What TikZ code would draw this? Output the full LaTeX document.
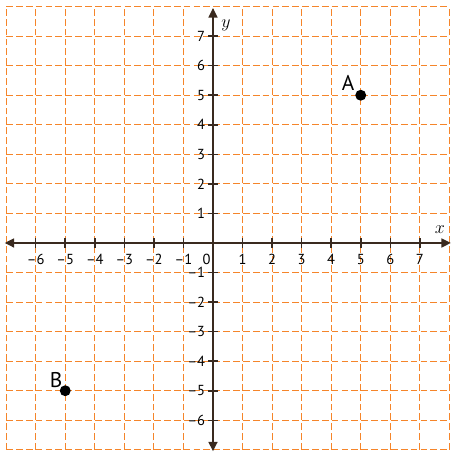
\documentclass[tikz,border=0pt]{standalone}
\usepackage{fontspec}
\setmainfont{PT Sans}
\usetikzlibrary{arrows.meta}
\definecolor{gridorange}{HTML}{F5852A}
\definecolor{axisbrown}{HTML}{3A2A1F}
\tikzset{
  gridline/.style={draw=gridorange, line width=1pt, dash pattern=on 6.5pt off 3pt},
  axisline/.style={draw=axisbrown, line width=1.8pt, {Triangle[length=3.2mm,width=3mm]}-{Triangle[length=3.2mm,width=3mm]}},
  tickline/.style={draw=axisbrown, line width=1.5pt},
  ticklabel/.style={font=\fontsize{14}{16}\selectfont, inner sep=0pt, text=black},
  ptlabel/.style={font=\fontsize{20.5}{22}\selectfont, inner sep=0pt},
  axislabel/.style={font=\fontsize{18}{20}\selectfont, inner sep=0pt},
  dotpt/.style={circle, fill=black, inner sep=0pt, minimum size=3.7mm}
}
\begin{document}
\begin{tikzpicture}
\useasboundingbox (-7.208,-7.343) rectangle (8.799,8.223);
% grid
\foreach \i in {-7,...,8} {
  \draw[gridline] (\i,-7) -- (\i,8);
  \draw[gridline] (-7,\i) -- (8,\i);
}
% axes
\coordinate (xmin) at (-7.05,0);
\coordinate (xmax) at (8.05,0);
\coordinate (ymin) at (0,-7.05);
\coordinate (ymax) at (0,7.95);
\draw[axisline] (xmin) -- (xmax);
\draw[axisline] (ymin) -- (ymax);
% ticks and labels
\foreach \i in {-6,...,7} {
  \ifnum\i=0\relax\else
    \draw[tickline] (\i,-0.17) -- (\i,0.17);
    \draw[tickline] (-0.17,\i) -- (0.17,\i);
    \ifnum\i<0
      \node[ticklabel] (xl\i) at (\i,-0.56) {\textendash\pgfmathparse{int(-\i)}\pgfmathresult};
      \node[ticklabel, anchor=east] (yl\i) at (-0.26,\i) {\textendash\pgfmathparse{int(-\i)}\pgfmathresult};
    \else
      \node[ticklabel] (xl\i) at (\i,-0.56) {\i};
      \node[ticklabel, anchor=east] (yl\i) at (-0.26,\i) {\i};
    \fi
  \fi
}
\node[ticklabel] (zero) at (-0.22,-0.56) {0};
\node[axislabel] (xlab) at (7.68,0.44) {$x$};
\node[axislabel] (ylab) at (0.44,7.38) {$y$};
% points
\node[dotpt] (A) at (5,5) {};
\node[dotpt] (B) at (-5,-5) {};
\node[ptlabel] (Alab) at (4.57,5.42) {A};
\node[ptlabel] (Blab) at (-5.31,-4.65) {B};
\end{tikzpicture}
\end{document}
